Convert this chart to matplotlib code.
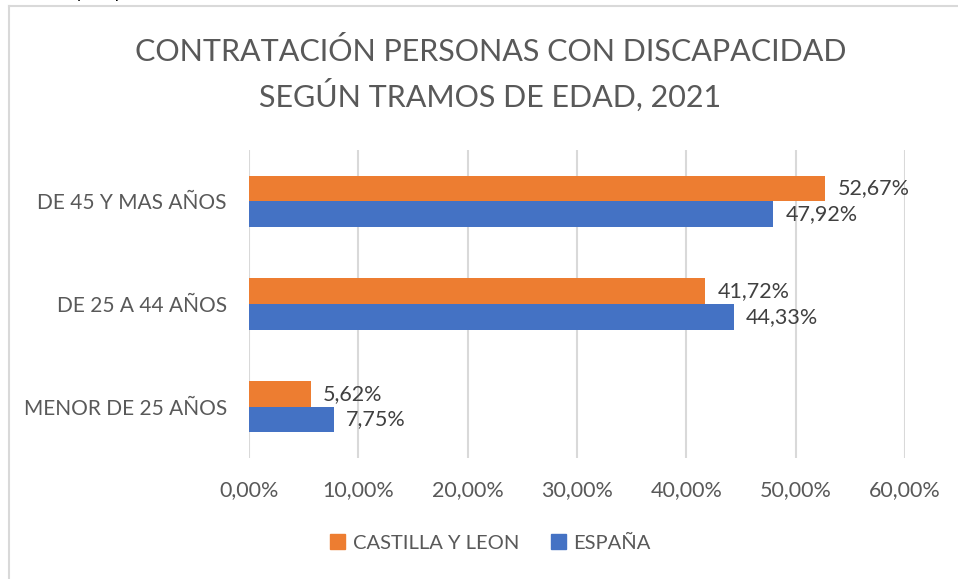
import matplotlib
matplotlib.use("Agg")
import matplotlib.pyplot as plt
from matplotlib.patches import Patch

# data
categories = ["MENOR DE 25 AÑOS", "DE 25 A 44 AÑOS", "DE 45 Y MAS AÑOS"]
castilla = [5.62, 41.72, 52.67]
espana = [7.75, 44.33, 47.92]
series_names = ["CASTILLA Y LEON", "ESPAÑA"]
xticks = [0, 10, 20, 30, 40, 50, 60]

ORANGE = "#ED7D31"
BLUE = "#4472C4"
GREY = "#595959"

plt.rcParams["font.family"] = ["Lato", "DejaVu Sans"]


def pct(v):
    return f"{v:.2f}".replace(".", ",") + "%"


fig = plt.figure(figsize=(9.58, 5.79), dpi=100)
ax = fig.add_axes([0.26, 0.209, 0.6847, 0.532])

h = 0.25
ys = range(len(categories))
ax.barh([y + h / 2 for y in ys], castilla, height=h, color=ORANGE, zorder=3)
ax.barh([y - h / 2 for y in ys], espana, height=h, color=BLUE, zorder=3)

for y, v in zip(ys, castilla):
    ax.annotate(pct(v), (v, y + h / 2), xytext=(9, 0), textcoords="offset points",
                va="center", ha="left", fontsize=15.5, color="#404040")
for y, v in zip(ys, espana):
    ax.annotate(pct(v), (v, y - h / 2), xytext=(9, 0), textcoords="offset points",
                va="center", ha="left", fontsize=15.5, color="#404040")

ax.set_xlim(0, 60)
ax.set_ylim(-0.5, 2.5)
ax.set_xticks(xticks)
ax.set_xticklabels([pct(t) for t in xticks], fontsize=15.5, color=GREY)
ax.set_yticks(list(ys))
ax.set_yticklabels(categories, fontsize=15, color=GREY)
ax.tick_params(length=0)
ax.tick_params(axis="x", pad=16)
ax.tick_params(axis="y", pad=16)
ax.grid(axis="x", color="#D9D9D9", linewidth=1.5, zorder=0)
for s in ax.spines.values():
    s.set_visible(False)

fig.text(0.512, 0.872, "CONTRATACIÓN PERSONAS CON DISCAPACIDAD\nSEGÚN TRAMOS DE EDAD, 2021",
         ha="center", va="center", fontsize=22, color=GREY, linespacing=1.45)

handles = [Patch(color=ORANGE), Patch(color=BLUE)]
fig.legend(handles, series_names, loc="center", bbox_to_anchor=(0.512, 0.062),
           ncol=2, frameon=False, fontsize=14.5, handlelength=0.75, handleheight=0.75,
           handletextpad=0.35, columnspacing=1.6, labelcolor=GREY)

# chart frame (left and top edges visible) and clipped source line
fig.add_artist(plt.Line2D([0.0094, 0.0094], [0, 0.99], color="#D9D9D9", linewidth=1.5))
fig.add_artist(plt.Line2D([0.0094, 1], [0.99, 0.99], color="#D9D9D9", linewidth=1.5))
fig.text(-0.005, 1.012, "Comercio y Empleo", ha="left", va="center", fontsize=13, color="black")

fig.savefig("out.png", dpi=100)
